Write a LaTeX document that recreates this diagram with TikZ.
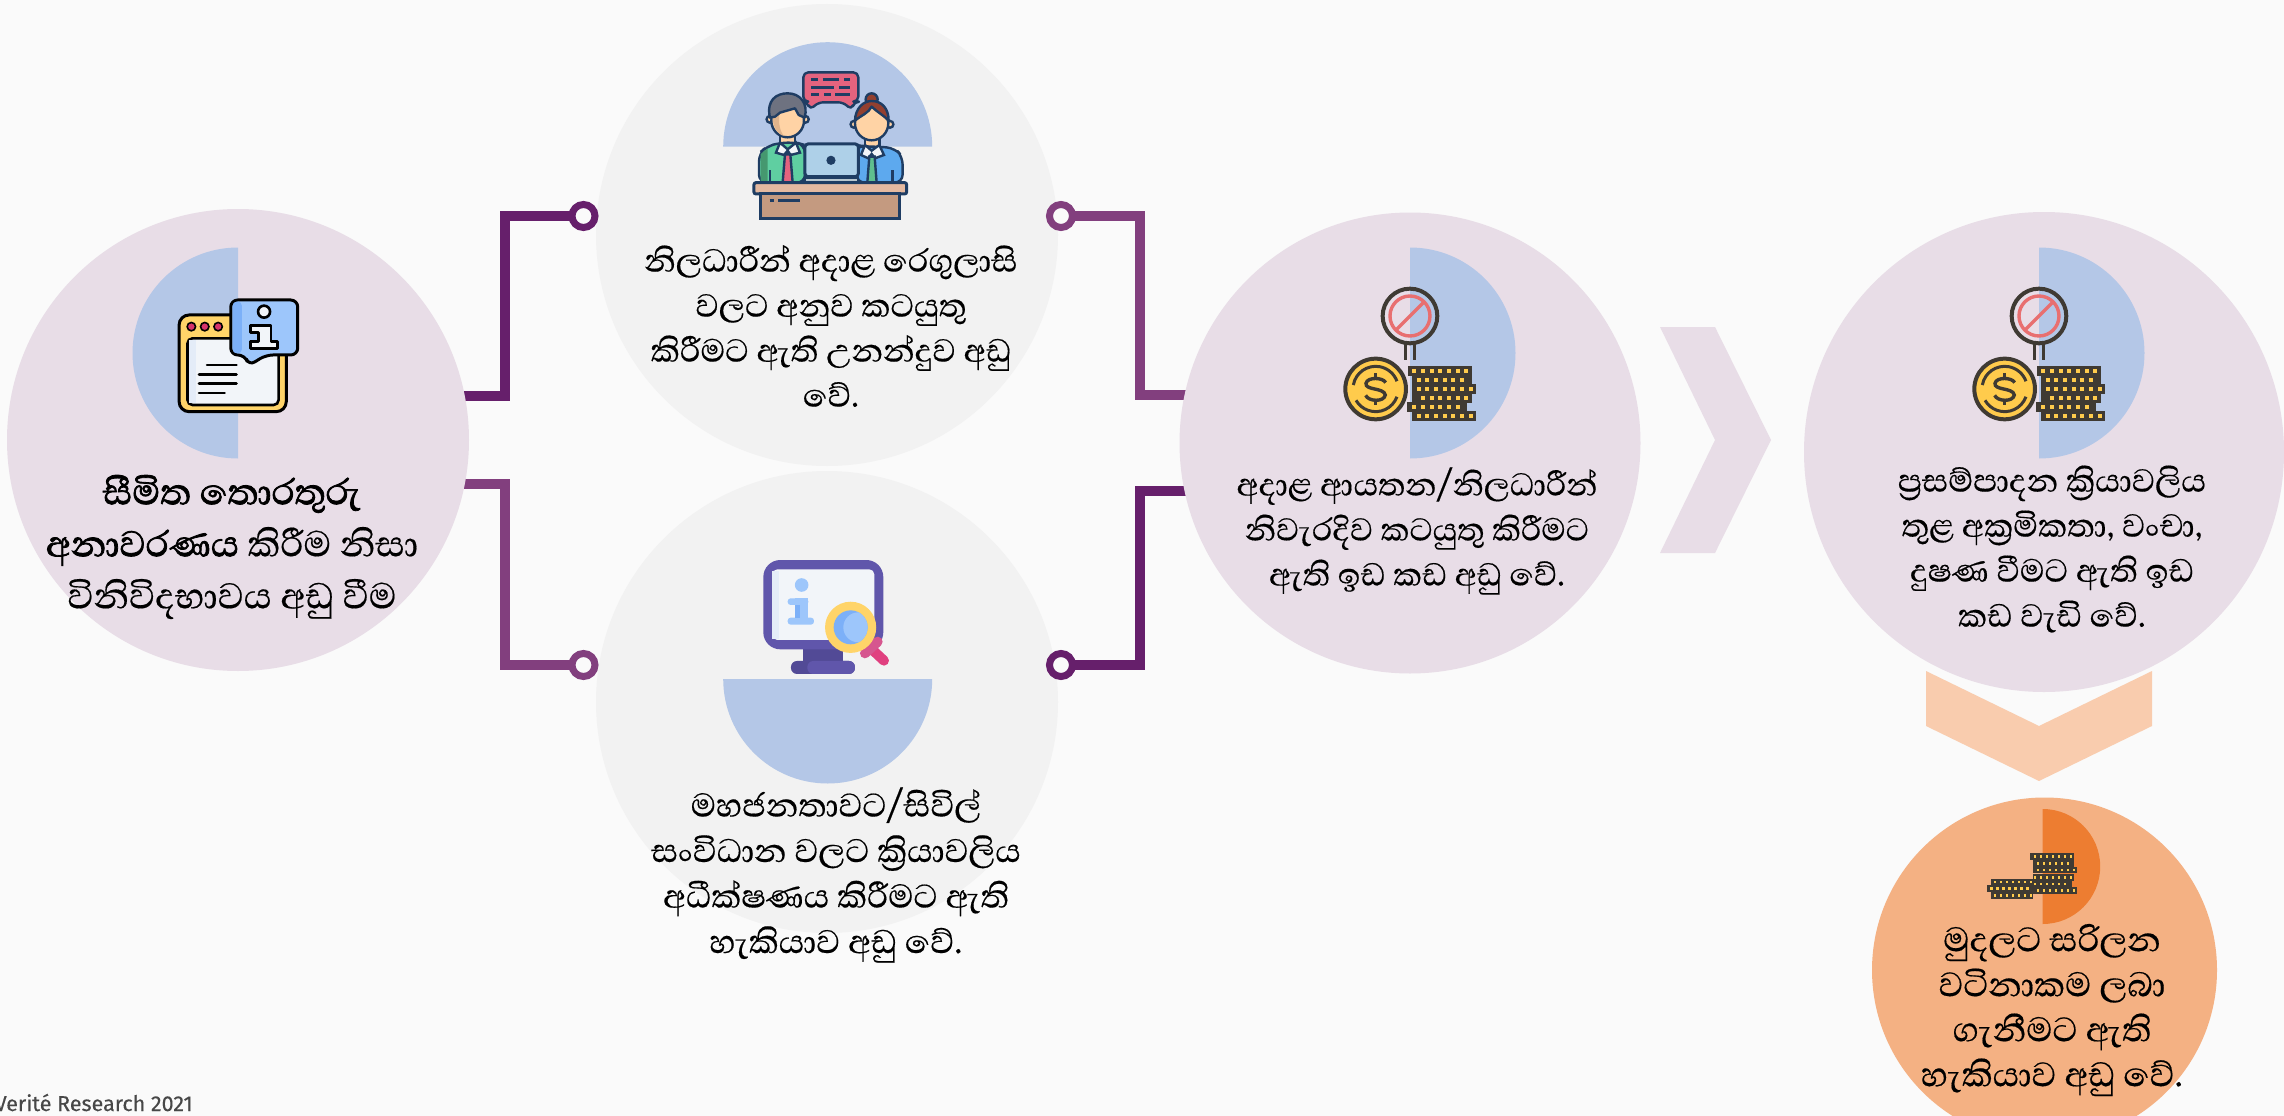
\documentclass[tikz,border=0pt]{standalone}
\usepackage{fontspec}
\newfontfamily\sifont[Script=Sinhala,FakeBold=0.35,BoldFont={Abhaya Libre},BoldFeatures={FakeBold=1.7}]{Abhaya Libre}
\newfontfamily\footfont[FakeBold=0.3]{Fira Sans}
\usetikzlibrary{calc}
\pgfdeclarelayer{bg}
\pgfsetlayers{bg,main}
\definecolor{pagebg}{HTML}{FAFAFA}
\definecolor{pinkc}{HTML}{E8DDE7}
\definecolor{grayc}{HTML}{F2F2F2}
\definecolor{bluec}{HTML}{B4C7E7}
\definecolor{peachc}{HTML}{F4B183}
\definecolor{orangec}{HTML}{ED7D31}
\definecolor{chevp}{HTML}{F9CCAE}
\definecolor{purpd}{HTML}{661F6B}
\definecolor{purpl}{HTML}{823F7E}
\definecolor{navy}{HTML}{1F3D63}
\definecolor{dk}{HTML}{3F3A33}
\definecolor{yel}{HTML}{FFD469}
\definecolor{gold}{HTML}{FFCB4C}
\definecolor{paper}{HTML}{F2F5F9}
\definecolor{lb}{HTML}{9DC6FB}
\definecolor{mb}{HTML}{7CB0F8}
\definecolor{rosec}{HTML}{E4637E}
\definecolor{skin}{HTML}{FFD3A5}
\definecolor{skind}{HTML}{E0B48C}
\definecolor{monit}{HTML}{6056AB}
\definecolor{monitd}{HTML}{524A96}
\definecolor{redr}{HTML}{E86F70}
\definecolor{mang}{HTML}{5FCFA1}
\definecolor{mangd}{HTML}{45986F}
\definecolor{hairg}{HTML}{6E7280}
\definecolor{hairb}{HTML}{93402F}
\definecolor{womb}{HTML}{5DA9EE}
\definecolor{tieg}{HTML}{5FBF8F}
\definecolor{deskt}{HTML}{E4B9A0}
\definecolor{deskb}{HTML}{C49A80}
\definecolor{lapt}{HTML}{AED0E8}
\definecolor{lapb}{HTML}{B9C7CF}
\definecolor{dotp}{HTML}{D6336C}
\definecolor{handa}{HTML}{E0407F}
\definecolor{handb}{HTML}{D6568F}
\definecolor{lbp}{HTML}{E4ECF8}
\tikzset{
  bigc/.style={circle,inner sep=0pt,outer sep=0pt,minimum size=#1},
  ringn/.style={circle,inner sep=0pt,outer sep=0pt,minimum size=23pt,line width=7pt,fill=pagebg},
  conn/.style={line width=10pt,line join=miter,shorten <=-4pt},
  lbl/.style={align=center,inner sep=0pt,text=black},
}
\newcommand{\halfdisc}[6]{\fill[#1] (#2,#3) ++(#5:#4) arc[start angle=#5,end angle=#6,radius=#4] -- cycle;}
\newcommand{\coinrows}[2]{%
  \foreach \ry/\xa/\xb/\ds/\dn in {#1}{
    \fill[dk] (\xa,\ry-#2*1.15) rectangle (\xb,\ry+#2*1.15);
    \foreach \k in {0,...,\dn}{
      \pgfmathsetmacro\dX{\ds+#2*2*\k}
      \fill[gold] (\dX-#2*.45,\ry-#2*.45) rectangle (\dX+#2*.45,\ry+#2*.45);
    }
  }
}
\newcommand{\moneyicon}[2]{%
\begin{scope}[shift={(#1,#2)},x=.3333pt,y=-.3333pt]
  \draw[dk,line width=4pt] (690,228) circle[radius=82];
  \draw[redr,line width=3.4pt] (690,228) circle[radius=60];
  \draw[redr,line width=3.4pt] (648,270) -- (732,186);
  \draw[dk,line width=3.4pt] (676,315) -- (676,360) (704,315) -- (704,360);
  \coinrows{393/685/875/703/6,420/697/875/716/5,447/697/888/716/6,473/697/875/729/5,500/680/862/703/5,527/697/888/716/6}{13}
  \fill[dk] (680,508) rectangle (700,516);
  \fill[gold,draw=dk,line width=4pt] (587,447) circle[radius=91];
  \draw[dk,line width=3pt] (587,447) ++(20:68) arc[start angle=20,end angle=150,radius=68];
  \draw[dk,line width=3pt] (587,447) ++(190:68) arc[start angle=190,end angle=340,radius=68];
  \draw[dk,line width=3.4pt] (617,428) .. controls (610,412) and (562,410) .. (558,430) .. controls (555,452) and (612,442) .. (616,465) .. controls (612,487) and (565,485) .. (557,466);
  \draw[dk,line width=3.4pt] (587,400) -- (587,414) (587,480) -- (587,495);
\end{scope}}
\begin{document}
\begin{tikzpicture}[x=1pt,y=-1pt]
\useasboundingbox (0,0) rectangle (2284,1116);
\begin{pgfonlayer}{bg}
  \fill[pagebg] (0,0) rectangle (2284,1116);
\end{pgfonlayer}
\clip (0,0) rectangle (2284,1116);

% chevrons
\fill[pinkc] (1660,327) -- (1715,327) -- (1771,440) -- (1715,553) -- (1660,553) -- (1715,440) -- cycle;
\fill[chevp] (1926,671) -- (2039,726) -- (2152,671) -- (2152,726) -- (2039,781) -- (1926,726) -- cycle;

% circles
\node[bigc=462pt,fill=pinkc] (c1) at (238,440) {};
\node[bigc=462pt,fill=grayc] (c2) at (827,235) {};
\node[bigc=462pt,fill=grayc] (c3) at (827,702) {};
\node[bigc=461pt,fill=pinkc] (c4) at (1410,443) {};
\node[bigc=480pt,fill=pinkc] (c5) at (2044,452) {};
\node[bigc=345pt,fill=peachc] (c6) at (2044.5,970) {};

% half discs
\halfdisc{bluec}{238}{353}{105.5}{90}{270}
\halfdisc{bluec}{827.7}{146.7}{104.5}{180}{360}
\halfdisc{bluec}{827.7}{679}{104.5}{0}{180}
\halfdisc{bluec}{1410}{353}{105.5}{-90}{90}
\halfdisc{bluec}{2039}{353}{105.5}{-90}{90}
\halfdisc{orangec}{2042.7}{866.5}{57.5}{-90}{90}

% rings
\node[ringn,draw=purpd] (r1) at (583.5,216) {};
\node[ringn,draw=purpl] (r2) at (583.5,665) {};
\node[ringn,draw=purpl] (r3) at (1061,216) {};
\node[ringn,draw=purpd] (r4) at (1061,665) {};
\coordinate (b1) at (505,216);
\coordinate (b2) at (505,665);
\coordinate (b3) at (1140,216);
\coordinate (b4) at (1140,665);

\begin{pgfonlayer}{bg}
  \draw[conn,purpd] (c1.11.2) -| (b1) -- (r1.center);
  \draw[conn,purpl] (c1.-11.5) -| (b2) -- (r2.center);
  \draw[conn,purpl] (c4.168.7) -| (b3) -- (r3.center);
  \draw[conn,purpd] (c4.-168.8) -| (b4) -- (r4.center);
\end{pgfonlayer}

% icon 1
\begin{scope}[shift={(0,200)},x=.3827pt,y=-.3333pt]
  \draw[fill=yel,line width=3pt,rounded corners=10pt] (468,345) rectangle (748,635);
  \draw[fill=paper,line width=2.6pt,rounded corners=5pt] (490,415) rectangle (728,615);
  \fill[lbp] (494,420) rectangle (512,610);
  \foreach \dx in {500,535,570}{\draw[fill=dotp,line width=1.6pt] (\dx,380) circle[radius=4.2pt];}
  \draw[line width=2.6pt,line cap=round] (541,495) -- (618,495) (520,523) -- (618,523) (520,551) -- (618,551) (520,579) -- (587,579);
  \draw[fill=lb,line width=3pt,rounded corners=7pt,line join=round] (603,300) -- (778,300) -- (778,465) -- (695,465) -- (650,497) -- (640,465) -- (603,465) -- cycle;
  \fill[mb,rounded corners=4pt] (608,305) rectangle (632,460);
  \draw[fill=paper,line width=2.6pt,line join=round] (655,377) -- (708,377) -- (708,425) -- (725,425) -- (725,445) -- (655,445) -- (655,425) -- (675,425) -- (675,397) -- (655,397) -- cycle;
  \draw[fill=paper,line width=2.6pt] (690,335) circle[radius=6pt];
\end{scope}

% icon 2
\begin{scope}[shift={(600,0)},x=.3333pt,y=-.3333pt,line width=2.4pt,draw=navy]
  % bubble
  \draw[fill=rosec,rounded corners=5pt,line join=round] (610,217) -- (775,217) -- (775,305) -- (762,305) -- (755,330) -- (730,307) -- (655,307) -- (630,330) -- (622,305) -- (610,305) -- cycle;
  \draw[navy,line width=2.6pt] (634,239) -- (654,239) (668,239) -- (716,239) (732,239) -- (750,239)
     (634,262) -- (703,262) (718,262) -- (750,262)
     (634,284) -- (658,284) (672,284) -- (692,284) (706,284) -- (750,284);
  % man
  \draw[fill=skin] (540,400) rectangle (585,448);
  \draw[fill=skin] (510,358) circle[radius=3.4pt];
  \draw[fill=skin] (616,358) circle[radius=3.4pt];
  \draw[fill=skin] (563,362) ellipse[x radius=49,y radius=50];
  \fill[skind] (518,340) .. controls (515,380) and (535,405) .. (552,408) .. controls (535,390) and (535,350) .. (540,335) -- cycle;
  \draw[fill=hairg,line join=round] (510,353) .. controls (498,300) and (530,280) .. (563,280) .. controls (600,280) and (626,310) .. (614,353) -- (596,345) -- (585,325) -- (540,338) -- (525,350) -- cycle;
  \draw[fill=mang,rounded corners=8pt] (477,548) -- (477,460) -- (500,440) -- (540,428) -- (590,428) -- (615,435) -- (615,548) -- cycle;
  \fill[mangd] (482,545) -- (482,462) -- (503,445) -- (503,545) -- cycle;
  \draw (510,548) -- (510,510);
  \draw[fill=paper] (540,428) -- (563,448) -- (588,428) -- (600,458) -- (572,465) -- (563,452) -- (552,465) -- (528,458) -- cycle;
  \draw[fill=rosec] (555,463) -- (571,463) -- (578,548) -- (548,548) -- cycle;
  % woman
  \draw[fill=skin] (795,410) rectangle (838,452);
  \draw[fill=hairb] (815,298) circle[radius=6pt];
  \draw[fill=skin] (762,373) circle[radius=3.4pt];
  \draw[fill=skin] (870,373) circle[radius=3.4pt];
  \draw[fill=skin] (815,370) ellipse[x radius=50,y radius=51];
  \draw[fill=hairb,line join=round] (765,362) .. controls (766,325) and (790,303) .. (815,303) .. controls (845,303) and (866,325) .. (866,362) .. controls (850,345) and (830,335) .. (815,320) .. controls (805,340) and (785,345) .. (765,362) -- cycle;
  \draw[fill=womb,rounded corners=8pt] (770,548) -- (770,435) -- (795,440) -- (840,440) -- (885,445) -- (908,470) -- (908,548) -- cycle;
  \draw (878,548) -- (878,510);
  \draw[fill=paper] (795,435) -- (815,452) -- (838,435) -- (852,465) -- (825,475) -- (815,462) -- (805,475) -- (783,465) -- cycle;
  \draw[fill=tieg] (808,470) -- (824,470) -- (830,548) -- (802,548) -- cycle;
  % laptop
  \draw[fill=lapt,rounded corners=3pt,line width=3pt] (615,432) rectangle (775,530);
  \draw[fill=lapb,line width=2pt] (615,535) rectangle (775,548);
  \fill[navy] (693,481) circle[radius=4.6pt];
  % desk
  \draw[fill=deskt,line width=3pt,rounded corners=2pt] (462,548) rectangle (920,582);
  \draw[fill=deskb,line width=3pt] (483,582) rectangle (900,655);
  \draw[line width=3pt] (509,602) -- (521,602) (535,602) -- (600,602);
\end{scope}

% icon 3
\begin{scope}[shift={(600,520)},x=.3333pt,y=-.3333pt]
  \fill[monitd] (610,380) rectangle (730,430);
  \fill[monitd,rounded corners=6pt] (573,423) rectangle (765,462);
  \fill[monit,rounded corners=6pt] (622,423) rectangle (765,462);
  \fill[monit,rounded corners=17pt] (490,120) rectangle (850,388);
  \fill[paper,rounded corners=5pt] (517,148) rectangle (823,360);
  \fill[lbp] (517,152) rectangle (537,356);
  \fill[lb] (605,195) circle[radius=6.8pt];
  \fill[lb,rounded corners=3pt] (563,235) rectangle (625,255);
  \fill[lb] (585,235) rectangle (625,300);
  \fill[lb,rounded corners=3pt] (563,293) rectangle (642,314);
  \fill[mb] (585,255) rectangle (600,293);
  \draw[handa,line width=10pt,line cap=round] (805,378) -- (852,422);
  \draw[handb,line width=10pt,line cap=round] (795,400) -- (833,365);
  \fill[yel] (752,322) circle[radius=25.6pt];
  \fill[mb] (752,322) circle[radius=17pt];
  \begin{scope}
    \clip (752,322) circle[radius=17pt];
    \fill[lb] (775,322) circle[radius=15pt];
  \end{scope}
\end{scope}

\moneyicon{1180}{240}
\moneyicon{1809}{240}

% icon 6
\begin{scope}[shift={(1860,780)},x=.3333pt,y=-.3333pt]
  \coinrows{230/510/642/525/6,250/518/642/534/5,270/518/650/534/6,292/518/642/525/6,312/510/635/525/5,332/518/650/534/6}{9}
  \coinrows{306/392/518/405/6,326/382/518/395/6,346/392/518/405/6}{9}
\end{scope}

% labels
\node[lbl,font=\sifont\fontsize{46}{52}\selectfont] (t1) at (232,547) {\textbf{සීමිත තොරතුරු}\\\textbf{අනාවරණය} කිරීම නිසා\\විනිවිදභාවය අඩු වීම};
\node[lbl,font=\sifont\fontsize{41}{45}\selectfont] (t2) at (831,326) {නිලධාරීන් අදාළ රෙගුලාසි\\වලට අනුව කටයුතු\\කිරීමට ඇති උනන්දුව අඩු\\වේ.};
\node[lbl,font=\sifont\fontsize{42}{45.5}\selectfont] (t3) at (836,875) {මහජනතාවට/සිවිල්\\සංවිධාන වලට ක්^^^^200dරියාවලිය\\අධීක්ෂණය කිරීමට ඇති\\හැකියාව අඩු වේ.};
\node[lbl,font=\sifont\fontsize{40.5}{45}\selectfont] (t4) at (1417,531) {අදාළ ආයතන/නිලධාරීන්\\නිවැරදිව කටයුතු කිරීමට\\ඇති ඉඩ කඩ අඩු වේ.};
\node[lbl,font=\sifont\fontsize{41}{45}\selectfont] (t5) at (2052,549) {ප්^^^^200dරසම්පාදන ක්^^^^200dරියාවලිය\\තුළ අක්^^^^200dරමිකතා, වංචා,\\දුෂණ වීමට ඇති ඉඩ\\කඩ වැඩි වේ.};
\node[lbl,font=\sifont\fontsize{43.5}{45}\selectfont] (t6) at (2052,1010) {මුදලට සරිලන\\වටිනාකම ලබා\\ගැනීමට ඇති\\හැකියාව අඩු වේ.};
\node[anchor=base east,inner sep=0pt,text=black!72,font=\footfont\fontsize{21.5}{24}\selectfont] (foot) at (193,1111) {Verité Research 2021};
\end{tikzpicture}
\end{document}
